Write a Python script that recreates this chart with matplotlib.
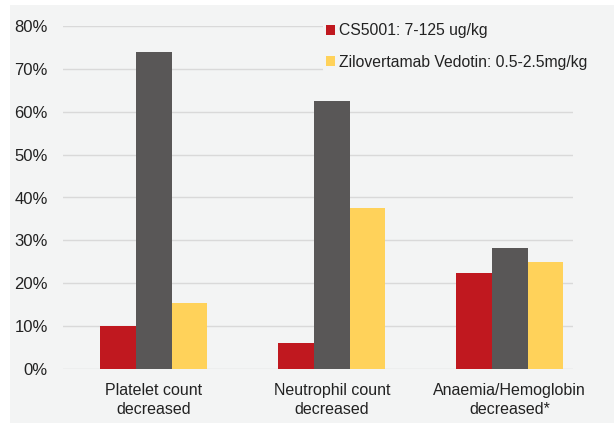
import numpy as np
import matplotlib as mpl
from matplotlib import pyplot as plt
from matplotlib.patches import Rectangle

plt.rcParams['font.family'] = ['Liberation Sans', 'DejaVu Sans']

categories = ['Platelet count\ndecreased', 'Neutrophil count\ndecreased',
              'Anaemia/Hemoglobin\ndecreased*']
cs5001 = [10.0, 6.0, 22.5]
other = [74.0, 62.5, 28.3]
zilo = [15.5, 37.5, 25.0]
yticks = [0, 10, 20, 30, 40, 50, 60, 70, 80]

bg = '#f3f4f4'
red = '#c0181f'
gray = '#595757'
yellow = '#ffd25a'
txt = '#222222'

fig = plt.figure(figsize=(6.14, 4.23), dpi=100)
fig.patch.set_facecolor('white')
fig.patches.append(Rectangle((10 / 614, 0), 1, 418 / 423, transform=fig.transFigure,
                             facecolor=bg, edgecolor='none', zorder=-10))

ax = fig.add_axes([63 / 614, 54 / 423, 510 / 614, 343 / 423])
ax.set_facecolor(bg)

x = np.arange(len(categories))
w = 0.2
ax.bar(x - w, cs5001, w, color=red, label='CS5001: 7-125 ug/kg', zorder=3)
ax.bar(x, other, w, color=gray, zorder=3)
ax.bar(x + w, zilo, w, color=yellow, label='Zilovertamab Vedotin: 0.5-2.5mg/kg', zorder=3)

ax.set_xlim(-0.51, 2.355)
ax.set_ylim(0, 80)
ax.set_yticks(yticks)
ax.set_yticklabels(['%d%%' % v for v in yticks], fontsize=12, color=txt)
ax.set_xticks(x)
ax.set_xticklabels(categories, fontsize=11.5, color=txt, linespacing=1.35)
ax.tick_params(length=0, axis='y', pad=11)
ax.tick_params(length=0, axis='x', pad=10)
ax.grid(axis='y', color='#d9d9d9', linewidth=1, zorder=0)
for s in ax.spines.values():
    s.set_visible(False)

leg = ax.legend(loc='upper right', bbox_to_anchor=(1.05, 1.04), fontsize=11.3,
                frameon=True, facecolor=bg, edgecolor='none', framealpha=1,
                handlelength=0.6, handleheight=0.6, handletextpad=0.25,
                labelspacing=1.05, borderpad=0.2)
for t in leg.get_texts():
    t.set_color(txt)

fig.savefig('out.png', dpi=100)
